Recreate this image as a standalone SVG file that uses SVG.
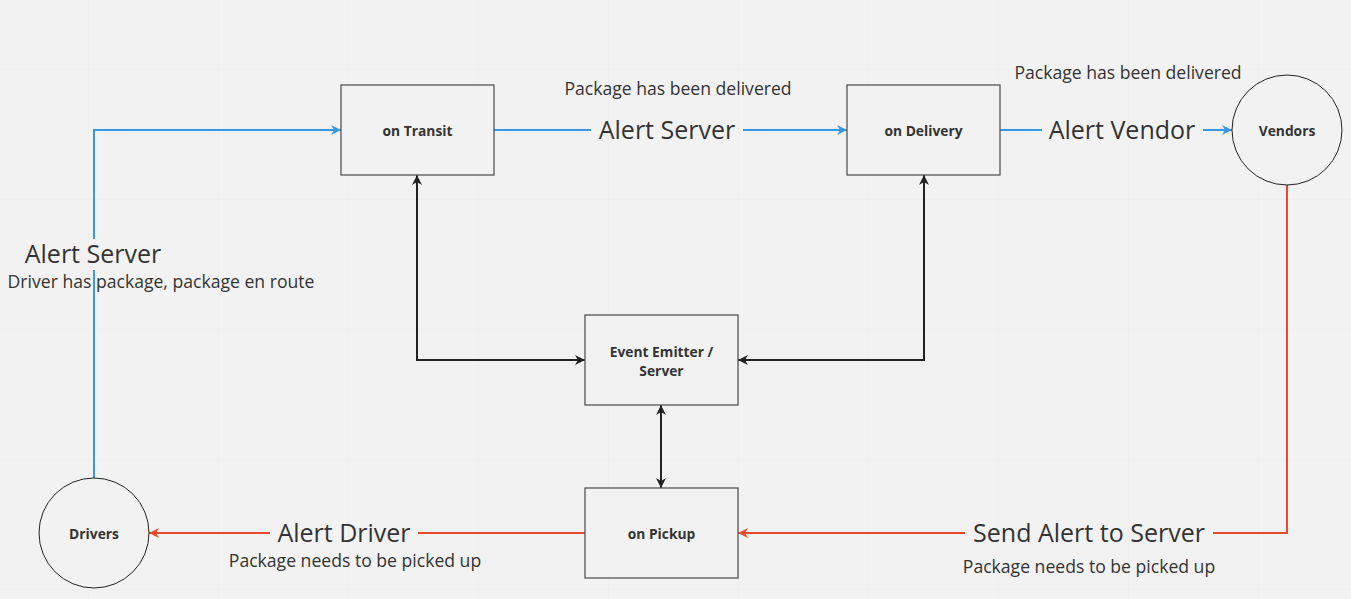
<svg xmlns="http://www.w3.org/2000/svg" width="1351" height="599" viewBox="0 0 1351 599">
<defs>
<style>
.box{fill:#f2f2f2;stroke:#555;stroke-width:1.3}
.circ{fill:#f2f2f2;stroke:#222;stroke-width:1}
.nl{font-family:"Open Sans","Noto Sans",sans-serif;font-weight:bold;font-size:13.8px;fill:#333;text-anchor:middle;dominant-baseline:central}
.big{font-family:"Open Sans","Noto Sans",sans-serif;font-size:25px;fill:#333;text-anchor:middle;dominant-baseline:central}
.sm{font-family:"Open Sans","Noto Sans",sans-serif;font-size:17.6px;fill:#333;text-anchor:middle;dominant-baseline:central}
.blue{fill:none;stroke:#3a97e4;stroke-width:2}
.red{fill:none;stroke:#e84a30;stroke-width:2}
.blk{fill:none;stroke:#222;stroke-width:2}
</style>
<marker id="ab" viewBox="0 0 10 10" refX="10" refY="5" markerWidth="5" markerHeight="5" orient="auto"><path d="M0,0 L10,5 L0,10 L3,5 z" fill="#3a97e4"/></marker>
<marker id="ar" viewBox="0 0 10 10" refX="10" refY="5" markerWidth="5" markerHeight="5" orient="auto"><path d="M0,0 L10,5 L0,10 L3,5 z" fill="#e84a30"/></marker>
<marker id="ak" viewBox="0 0 10 10" refX="10" refY="5" markerWidth="5" markerHeight="5" orient="auto-start-reverse"><path d="M0,0 L10,5 L0,10 L3,5 z" fill="#222"/></marker>
<pattern id="grid" x="88" y="69" width="130" height="130" patternUnits="userSpaceOnUse"><path d="M0,0 V130 M0,0 H130" stroke="#ebebeb" stroke-width="1" fill="none"/></pattern>
</defs>
<rect width="1351" height="599" fill="#f2f2f2"/>
<rect width="1351" height="599" fill="url(#grid)"/>
<g id="connectors">
<path class="blue" d="M94,478 V270 M94,239 V130 H341" marker-end="url(#ab)"/>
<path class="blue" d="M494,130 H591"/>
<path class="blue" d="M743,130 H847" marker-end="url(#ab)"/>
<path class="blue" d="M1000,130 H1042"/>
<path class="blue" d="M1203,130 H1232" marker-end="url(#ab)"/>
<path class="red" d="M1287,185 V533 H1213"/>
<path class="red" d="M965,533 H738" marker-end="url(#ar)"/>
<path class="red" d="M585,533 H418"/>
<path class="red" d="M270,533 H149" marker-end="url(#ar)"/>
<path class="blk" d="M417,175 V360 H585" marker-start="url(#ak)" marker-end="url(#ak)"/>
<path class="blk" d="M924,175 V360 H738" marker-start="url(#ak)" marker-end="url(#ak)"/>
<path class="blk" d="M661,405 V488" marker-start="url(#ak)" marker-end="url(#ak)"/>
<text class="big" x="93" y="253">Alert Server</text>
<text class="sm" x="161" y="281">Driver has package, package en route</text>
<text class="big" x="667" y="129">Alert Server</text>
<text class="sm" x="678" y="88">Package has been delivered</text>
<text class="big" x="1122" y="129">Alert Vendor</text>
<text class="sm" x="1128" y="72">Package has been delivered</text>
<text class="big" x="1089" y="532">Send Alert to Server</text>
<text class="sm" x="1089" y="566">Package needs to be picked up</text>
<text class="big" x="344" y="532">Alert Driver</text>
<text class="sm" x="355" y="560">Package needs to be picked up</text>
</g>
<g id="onTransit"><rect class="box" x="341" y="85" width="153" height="90"/><text class="nl" x="417.5" y="130">on Transit</text></g>
<g id="onDelivery"><rect class="box" x="847" y="85" width="153" height="90"/><text class="nl" x="923.5" y="130">on Delivery</text></g>
<g id="eventEmitter"><rect class="box" x="585" y="315" width="153" height="90"/><text class="nl" x="661.5" y="351">Event Emitter /</text><text class="nl" x="661.5" y="370">Server</text></g>
<g id="onPickup"><rect class="box" x="585" y="488" width="153" height="90"/><text class="nl" x="661.5" y="533">on Pickup</text></g>
<g id="vendors"><circle class="circ" cx="1287" cy="130" r="55"/><text class="nl" x="1287" y="130">Vendors</text></g>
<g id="drivers"><circle class="circ" cx="94" cy="533" r="55"/><text class="nl" x="94" y="533">Drivers</text></g>
</svg>
